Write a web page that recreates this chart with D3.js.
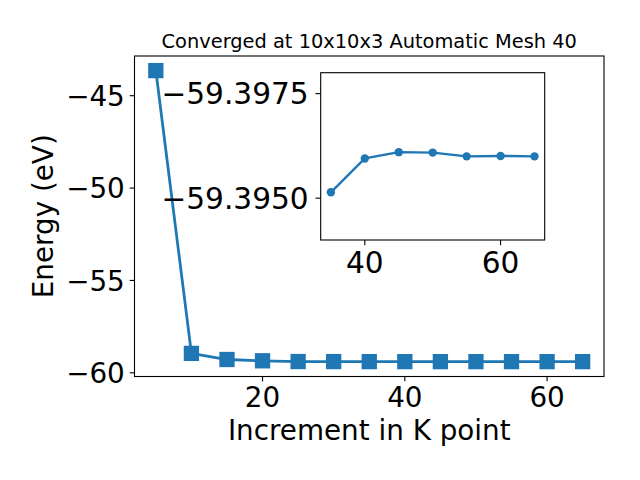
<!DOCTYPE html>
<html><head><meta charset="utf-8">
<script src="https://cdn.jsdelivr.net/npm/d3@7"></script>
<style>body{margin:0;background:#fff}svg{display:block}text{font-family:"DejaVu Sans",sans-serif}</style>
</head><body><svg id="c" width="640" height="480"></svg>
<script>
const kpoints = [5,10,15,20,25,30,35,40,45,50,55,60,65];
const energies = [-43.64,-58.95,-59.28,-59.35,-59.39,-59.392,-59.39514,-59.39595,-59.39610,-59.39609,-59.39600,-59.39601,-59.39600];
const xTicks = [20,40,60];
const yTicks = [-60,-55,-50,-45];
const insetXTicks = [40,60];
const insetYTicks = [-59.3975,-59.3950];
const titleText = "Converged at 10x10x3 Automatic Mesh 40";
const xLabel = "Increment in K point";
const yLabel = "Energy (eV)";
const insetStart = 35;

const color = "#1f77b4";
const svg = d3.select("#c");
const fmt = v => (v<0?"\u2212":"") + Math.abs(v).toString();
const fmt4 = v => (v<0?"\u2212":"") + Math.abs(v).toFixed(4);

// main axes
const M = {l:134.5, r:604, t:56, b:376.5};
const x = d3.scaleLinear().domain([2,68]).range([M.l,M.r]);
const y = d3.scaleLinear().domain([-60.2,-42.85]).range([M.b,M.t]);
const data = kpoints.map((k,i)=>({k, e:energies[i]}));

const main = svg.append("g");
main.append("path").datum(data)
  .attr("d", d3.line().x(d=>x(d.k)).y(d=>y(d.e)))
  .attr("fill","none").attr("stroke",color).attr("stroke-width",2.78).attr("stroke-linejoin","round");
const ms = 13.9;
main.selectAll("rect.m").data(data).enter().append("rect")
  .attr("x",d=>x(d.k)-ms/2).attr("y",d=>y(d.e)-ms/2).attr("width",ms).attr("height",ms)
  .attr("fill",color).attr("stroke",color).attr("stroke-width",1.39);

function drawAxes(g, xs, ys, xt, yt, yf, box, fs, tickLen, gap, capH){
  g.append("rect").attr("x",box.l).attr("y",box.t).attr("width",box.r-box.l).attr("height",box.b-box.t)
    .attr("fill","none").attr("stroke","#000").attr("stroke-width",1.1);
  xt.forEach(v=>{
    const px = xs(v);
    g.append("line").attr("x1",px).attr("x2",px).attr("y1",box.b).attr("y2",box.b+tickLen).attr("stroke","#000").attr("stroke-width",1.1);
    g.append("text").attr("x",px).attr("y",box.b+gap+capH).attr("text-anchor","middle").attr("font-size",fs).text(fmt(v));
  });
  yt.forEach(v=>{
    const py = ys(v);
    g.append("line").attr("x1",box.l-tickLen).attr("x2",box.l).attr("y1",py).attr("y2",py).attr("stroke","#000").attr("stroke-width",1.1);
    g.append("text").attr("x",box.l-gap).attr("y",py+capH/2).attr("text-anchor","end").attr("font-size",fs).text(yf(v));
  });
}
drawAxes(main, x, y, xTicks, yTicks, fmt, M, 27.8, 4.86, 9.7, 20.3);

main.append("text").attr("x",(M.l+M.r)/2).attr("y",M.t-8.33).attr("text-anchor","middle").attr("font-size",19.4).text(titleText);
main.append("text").attr("x",(M.l+M.r)/2).attr("y",440).attr("text-anchor","middle").attr("font-size",27.8).text(xLabel);
main.append("text").attr("transform",`translate(53,${(M.t+M.b)/2}) rotate(-90)`).attr("text-anchor","middle").attr("font-size",27.8).text(yLabel);

// inset
const I = {l:320.7, r:544.7, t:72.7, b:240};
const xi = d3.scaleLinear().domain([33.5,66.5]).range([I.l,I.r]);
const yi = d3.scaleLinear().domain([-59.398,-59.394]).range([I.t,I.b]);
const sub = data.filter(d=>d.k>=insetStart);
const ins = svg.append("g");
ins.append("rect").attr("x",I.l).attr("y",I.t).attr("width",I.r-I.l).attr("height",I.b-I.t).attr("fill","#fff");
ins.append("path").datum(sub)
  .attr("d", d3.line().x(d=>xi(d.k)).y(d=>yi(d.e)))
  .attr("fill","none").attr("stroke",color).attr("stroke-width",2.4).attr("stroke-linejoin","round");
ins.selectAll("circle").data(sub).enter().append("circle")
  .attr("cx",d=>xi(d.k)).attr("cy",d=>yi(d.e)).attr("r",4.2).attr("fill",color);
drawAxes(ins, xi, yi, insetXTicks, insetYTicks, fmt4, I, 29.6, 5.2, 12.0, 20.8);
</script></body></html>
